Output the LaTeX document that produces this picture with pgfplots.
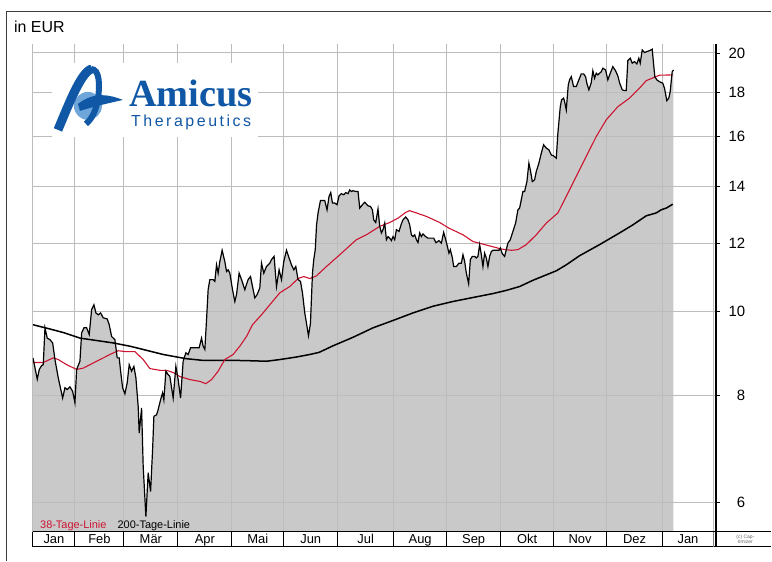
\documentclass[border=0pt]{standalone}
\usepackage{fontspec}
\setmainfont{Liberation Sans}
\newfontfamily\logoserif{Liberation Serif}
\newfontfamily\logosans[LetterSpace=16]{Liberation Sans}
\usepackage{pgfplots}
\pgfplotsset{compat=1.18}
\usepackage{pgfplotstable}
\definecolor{fillgrey}{RGB}{201,201,201}
\definecolor{gridgrey}{RGB}{188,188,188}
\definecolor{mared}{RGB}{204,20,48}
\definecolor{amblue}{RGB}{16,88,166}
\definecolor{amlight}{RGB}{110,166,218}
\definecolor{framec}{RGB}{60,60,60}

\pgfplotstableread{
x y
33.0 8.84
37.3 8.35
39.3 8.57
41.7 8.66
43.3 8.68
45.0 9.58
47.3 9.32
50.0 9.28
52.7 9.20
55.0 8.80
58.3 8.38
62.7 7.94
65.0 8.16
67.3 8.12
70.0 8.18
72.7 8.08
75.0 7.84
76.7 8.57
80.0 8.76
81.7 9.45
84.0 9.58
86.7 9.58
89.3 9.41
91.7 10.06
94.0 10.19
96.0 9.97
98.3 9.92
100.7 9.97
103.3 9.84
107.3 9.81
109.3 9.66
111.7 9.36
115.0 9.28
117.3 8.84
119.3 8.84
120.7 8.53
122.7 8.16
125.0 8.03
127.3 8.27
129.3 8.68
131.7 8.53
134.0 8.64
136.0 8.38
138.3 7.76
139.3 7.23
141.7 7.73
143.3 6.61
146.0 5.78
148.3 6.50
150.7 6.18
152.7 6.91
154.0 7.56
156.7 7.59
158.3 7.70
160.7 7.90
162.7 8.05
164.0 7.90
166.0 8.53
168.3 8.45
170.0 8.41
173.3 7.94
176.0 8.64
178.3 8.34
180.7 7.94
183.3 8.76
186.0 8.96
188.3 8.92
190.7 9.08
195.0 9.08
199.3 9.08
201.7 9.32
203.3 9.12
205.0 9.04
206.7 9.79
208.3 10.61
210.0 10.90
213.3 10.90
215.0 10.85
216.7 11.34
218.3 11.09
220.0 11.44
222.3 11.79
225.0 11.44
226.7 11.14
228.3 11.19
230.0 11.09
232.7 10.61
235.0 10.28
236.7 10.47
239.3 11.09
241.7 10.90
245.0 10.61
248.3 10.90
250.7 10.99
252.7 10.70
255.0 10.38
257.3 10.47
260.0 10.66
261.7 11.39
264.0 11.09
266.7 11.29
270.0 11.39
271.7 11.50
274.3 11.60
276.7 10.70
279.3 11.19
281.7 10.90
284.0 11.44
286.7 11.79
289.3 11.55
291.7 11.34
294.0 11.19
296.0 11.29
298.3 10.90
300.7 10.85
302.7 10.52
305.0 9.97
306.7 9.70
308.7 9.38
310.7 9.70
312.7 11.09
314.0 11.50
315.5 11.81
316.8 12.62
318.3 13.03
320.7 13.47
325.0 13.47
327.3 13.14
329.3 13.62
331.0 13.76
332.7 13.38
335.0 13.38
337.3 13.32
339.3 13.64
341.7 13.72
344.0 13.68
346.0 13.76
348.3 13.72
350.0 13.86
351.7 13.80
353.3 13.83
356.0 13.80
358.3 13.80
360.0 13.20
362.7 13.32
365.0 13.41
368.3 13.28
370.7 13.26
372.7 13.14
374.0 12.79
376.0 12.70
378.3 13.17
380.0 12.57
381.7 12.35
383.3 12.46
385.0 12.68
386.7 12.13
388.3 12.23
390.0 12.18
391.7 12.10
393.3 12.23
395.0 12.13
396.7 12.46
399.3 12.40
401.7 12.66
403.3 12.79
406.0 12.89
408.3 12.79
410.0 12.62
411.7 12.29
413.3 12.23
415.0 12.29
416.7 12.13
418.3 12.04
420.0 12.35
421.7 12.23
423.3 12.32
426.0 12.23
428.3 12.18
431.7 12.18
434.0 12.18
436.3 12.03
439.3 12.10
441.7 12.02
444.0 12.37
446.0 12.13
447.3 11.97
449.3 11.70
450.7 11.81
452.7 11.55
454.0 11.29
456.7 11.29
459.3 11.39
461.7 11.39
463.3 11.65
465.0 11.44
466.7 11.09
469.0 10.78
470.7 11.50
472.7 11.60
475.0 11.60
476.7 11.55
478.3 11.60
480.0 11.97
481.7 11.65
483.3 11.29
485.0 11.70
486.7 11.55
488.3 11.29
490.0 11.60
491.7 11.75
493.3 11.79
496.7 11.79
499.3 11.79
500.7 11.86
502.7 11.68
505.0 11.60
506.7 11.81
508.3 12.02
510.7 12.13
513.3 12.40
516.0 12.68
518.3 13.14
520.0 13.20
521.7 13.50
523.3 13.80
525.0 13.80
527.3 14.17
529.3 14.89
531.0 14.56
532.7 14.17
535.0 14.24
536.7 14.56
539.3 14.89
541.7 15.29
544.0 15.64
546.7 15.50
549.3 15.43
551.7 15.22
554.0 15.18
556.7 15.09
558.3 16.13
560.7 17.32
562.0 17.64
564.0 17.72
565.0 17.56
566.7 17.17
568.7 18.36
570.0 18.61
571.7 18.77
574.0 18.28
576.7 18.28
579.3 18.61
581.7 18.91
584.0 18.91
586.0 18.77
587.3 18.44
589.3 18.12
591.7 18.47
593.3 19.07
595.0 18.69
596.7 18.94
598.3 18.86
600.0 18.94
601.7 19.02
603.3 19.20
606.0 19.11
608.3 18.61
610.7 18.94
613.3 19.28
616.0 19.07
618.3 18.81
620.0 18.47
622.7 18.12
625.0 18.08
626.7 18.08
628.3 19.59
630.7 19.72
632.7 19.46
635.0 19.54
637.3 19.42
639.3 19.72
640.7 19.46
642.7 20.16
645.0 20.02
647.3 20.07
650.0 20.12
652.7 20.20
654.0 19.46
655.3 18.77
657.3 18.61
660.0 18.52
663.3 18.44
665.0 18.20
667.3 17.60
669.3 17.72
670.7 18.03
672.7 19.02
674.0 19.11
}\price

\pgfplotstableread{
x y
33.0 8.73
43.3 8.73
53.3 8.84
58.3 8.80
66.7 8.68
76.7 8.57
83.3 8.60
96.7 8.76
110.0 8.92
118.3 9.01
125.0 8.99
135.0 8.99
143.3 8.80
150.0 8.59
160.0 8.55
166.7 8.55
173.3 8.50
180.0 8.41
190.0 8.34
200.0 8.30
206.0 8.25
211.7 8.34
218.3 8.53
225.0 8.80
233.3 8.92
240.0 9.12
246.7 9.36
252.7 9.66
261.7 9.92
270.0 10.19
280.0 10.52
290.0 10.70
298.3 10.93
304.0 10.99
310.0 10.93
316.7 11.01
326.7 11.29
340.0 11.65
356.7 12.13
366.7 12.29
380.0 12.57
390.0 12.70
398.3 12.85
406.0 13.05
410.0 13.11
415.0 13.05
426.7 12.91
440.0 12.70
449.3 12.51
463.3 12.29
473.3 12.07
490.0 11.93
501.7 11.83
511.7 11.79
518.3 11.81
526.7 11.97
536.7 12.29
546.7 12.68
558.3 13.03
573.3 14.11
583.3 14.89
596.7 15.99
606.7 16.72
618.3 17.32
630.0 17.72
640.0 18.20
646.7 18.57
655.0 18.74
660.0 18.84
673.3 18.86
}\maone

\pgfplotstableread{
x y
33.0 9.66
50.0 9.55
63.3 9.46
80.0 9.32
96.7 9.26
113.3 9.20
130.0 9.12
146.7 9.02
163.3 8.92
179.3 8.85
186.7 8.82
203.3 8.78
220.0 8.78
236.7 8.78
253.3 8.77
266.7 8.76
280.0 8.80
296.7 8.86
310.0 8.92
319.3 8.97
333.3 9.13
353.3 9.34
373.3 9.58
393.3 9.77
413.3 9.97
433.3 10.15
453.3 10.28
473.3 10.39
493.3 10.50
506.7 10.59
520.0 10.70
533.3 10.88
556.7 11.16
566.7 11.34
580.0 11.62
600.0 11.97
620.0 12.35
633.3 12.62
646.7 12.93
656.7 13.03
661.7 13.14
666.7 13.20
673.3 13.34
}\matwo

\begin{document}
\begin{tikzpicture}[x=1bp,y=1bp]
\begin{axis}[
  at={(33bp,29bp)}, anchor=south west,
  scale only axis, width=684bp, height=488bp,
  xmin=33, xmax=717,
  ymode=log, ymin=5.552, ymax=20.485,
  set layers,
  axis line style={draw=none},
  xtick={33,75,124,178,232,284,338,394,447,501,554,607,663,714},
  xticklabels={},
  xtick style={draw=none},
  ytick={6,8,10,12,14,16,18,20},
  yticklabels={6,8,10,12,14,16,18,20},
  ytick pos=right,
  yticklabel pos=right,
  tick align=outside,
  major tick length=4bp,
  minor tick num=0,
  ytick style={black, line width=0.6bp},
  yticklabel style={anchor=east, xshift=25bp, inner sep=0pt, font=\fontsize{15}{15}\selectfont},
  grid=major,
  grid style={gridgrey, line width=1bp},
]
\addplot[on layer=axis background, fill=fillgrey, draw=none] table {\price} -- (axis cs:674,5.552) -- (axis cs:33,5.552) -- cycle;
\addplot[black, line width=1.5bp] table {\matwo};
\addplot[mared, line width=1.1bp] table {\maone};
\addplot[black, line width=1.2bp] table {\price};
\end{axis}
% outer frame
\draw[framec, line width=1bp] (7,0) -- (7,549) -- (772,549);
\node[anchor=base west, inner sep=0pt, font=\fontsize{16}{16}\selectfont] at (14,528) {in EUR};
% logo
\fill[white] (52,424) rectangle (258,498);
\fill[amlight] (88,455) circle (14);
\draw[amblue, line width=9bp] (58,431) .. controls (70,460) and (82,490) .. (92,492);
\draw[amblue, line width=6bp] (91,492) .. controls (100,492) and (100,475) .. (98,462) .. controls (96,450) and (92,442) .. (86,437);
\fill[amblue] (78,457) .. controls (95,470) and (110,466) .. (123,461) .. controls (110,458) and (96,455) .. (80,450) -- cycle;
\node[anchor=base west, inner sep=0pt, text=amblue, font=\logoserif\bfseries\fontsize{38.5}{38.5}\selectfont] at (129,454) {Amicus};
\node[anchor=base west, inner sep=0pt, text=amblue, font=\logosans\fontsize{16}{16}\selectfont] at (131,434) {Therapeutics};
% legend texts
\node[anchor=base west, inner sep=0pt, text=mared, font=\fontsize{11}{11}\selectfont] at (40,32) {38-Tage-Linie};
\node[anchor=base west, inner sep=0pt, text=black, font=\fontsize{11}{11}\selectfont] at (117.5,32) {200-Tage-Linie};
% month strip
\draw[black, line width=1bp] (33,29) -- (772,29);
\draw[black, line width=1.2bp] (33,14) -- (772,14);
\foreach \b in {33,75,124,178,232,284,338,394,447,501,554,607,663}
  \draw[black, line width=1bp] (\b,29) -- (\b,14);
\draw[gray, line width=1bp] (714,29) -- (714,14);
\foreach \c/\m in {54/Jan,99.5/Feb,151/Mär,205/Apr,258/Mai,311/Jun,366/Jul,420.5/Aug,474/Sep,527.5/Okt,580.5/Nov,635/Dez,688.5/Jan}
  \node[anchor=base, inner sep=0pt, font=\fontsize{13}{13}\selectfont] at (\c,17) {\m};
\draw[black, line width=2bp] (717,517) -- (717,14);
\node[align=center, inner sep=0pt, text=black!60, font=\fontsize{5}{5.5}\selectfont] at (746,21.5) {(c) Cap-\\timizer};
\path (0,0) rectangle (772,561);
\end{tikzpicture}
\end{document}
